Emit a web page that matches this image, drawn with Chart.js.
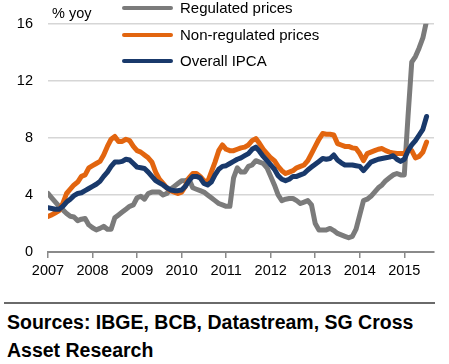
<!DOCTYPE html>
<html><head><meta charset="utf-8">
<script src="https://cdn.jsdelivr.net/npm/chart.js@4"></script>
<style>
html,body{margin:0;padding:0;background:#fff;width:449px;height:364px;overflow:hidden;font-family:"Liberation Sans",Arial,Helvetica,sans-serif;color:#000;}
#wrap{position:absolute;left:0;top:0;width:449px;height:292px;}
.unit{position:absolute;left:52px;top:5px;font-size:14.5px;line-height:16px;}
.leg{position:absolute;left:122px;height:16px;font-size:15px;line-height:16px;white-space:nowrap;}
.leg i{position:absolute;left:0;top:6px;width:51px;height:4px;border-radius:2px;}
.leg span{position:absolute;left:58px;top:0;}
#rule{position:absolute;left:4px;top:302px;width:431px;height:2px;background:#6a6a6a;}
#src{position:absolute;left:7px;top:308px;font-size:19.5px;font-weight:bold;line-height:28px;}
</style>
</head><body>
<div id="wrap"><canvas id="c"></canvas></div>
<div class="unit">% yoy</div>
<div id="legend"></div>
<div id="rule"></div>
<div id="src">Sources: IBGE, BCB, Datastream, SG Cross<br>Asset Research</div>
<script>
// Monthly, Jan 2007 .. Jul 2015 (% yoy)
const startYear = 2007;
const yearLabels = ['2007','2008','2009','2010','2011','2012','2013','2014','2015'];
const yTicks = [0, 4, 8, 12, 16];
const seriesNames = ['Regulated prices', 'Non-regulated prices', 'Overall IPCA'];

const regulated = [
 4.1,3.8,3.5,3.2,2.95,2.7,2.5,2.45,2.2,2.3,2.35,1.9,
 1.7,1.55,1.65,1.8,1.6,1.6,2.4,2.6,2.8,3.0,3.2,3.3,
 3.8,3.9,3.7,4.1,4.2,4.2,4.2,4.0,4.1,4.4,4.6,4.8,
 5.0,5.0,5.1,4.5,4.4,4.3,4.2,4.0,3.8,3.6,3.4,3.3,
 3.2,3.2,5.2,5.9,5.6,5.6,6.0,6.1,6.4,6.3,6.2,5.9,
 5.3,4.7,4.0,3.6,3.7,3.75,3.75,3.6,3.4,3.5,3.6,3.3,
 2.0,1.55,1.55,1.55,1.65,1.5,1.3,1.2,1.1,1.0,1.1,1.6,
 2.6,3.6,3.7,3.9,4.2,4.5,4.7,5.0,5.2,5.4,5.5,5.4,
 5.4,9.5,13.3,13.7,14.3,15.0,16.2
];
const nonRegulated = [
 2.5,2.6,2.75,2.9,3.4,4.1,4.4,4.7,4.9,5.3,5.4,5.9,
 6.05,6.2,6.35,6.8,7.4,7.9,8.1,7.75,7.75,7.9,7.8,7.4,
 7.1,7.0,6.8,6.6,6.3,5.6,5.1,4.8,4.5,4.3,4.2,4.1,
 4.2,4.6,5.2,5.5,5.5,5.3,5.0,4.9,5.6,6.3,7.1,7.5,
 7.2,7.1,7.1,7.2,7.3,7.35,7.5,7.8,7.95,7.6,7.2,6.9,
 6.6,6.4,6.0,5.7,5.5,5.6,5.7,5.9,6.0,6.1,6.4,6.9,
 7.4,7.9,8.3,8.25,8.25,8.2,7.6,7.5,7.4,7.4,7.3,7.25,
 6.9,6.4,6.9,7.0,7.1,7.2,7.25,7.1,7.0,6.95,6.9,6.9,
 6.9,7.2,7.1,6.6,6.7,7.0,7.7
];
const overall = [
 3.1,3.05,3.0,3.0,3.2,3.5,3.7,3.95,4.1,4.15,4.3,4.45,
 4.6,4.75,4.95,5.3,5.6,6.0,6.3,6.3,6.35,6.5,6.45,6.2,
 5.95,5.9,5.85,5.6,5.3,5.0,4.85,4.7,4.5,4.35,4.3,4.3,
 4.35,4.6,5.0,5.3,5.3,5.2,4.8,4.7,4.9,5.4,5.8,6.0,
 6.05,6.2,6.35,6.5,6.6,6.75,6.9,7.2,7.35,7.05,6.7,6.4,
 6.1,5.8,5.35,5.1,5.0,5.1,5.3,5.3,5.4,5.5,5.75,5.95,
 6.15,6.35,6.55,6.5,6.55,6.8,6.45,6.25,6.1,6.1,6.1,6.05,
 6.0,5.7,6.0,6.3,6.4,6.5,6.55,6.6,6.65,6.75,6.5,6.35,
 6.5,7.1,7.5,7.8,8.2,8.6,9.5
];

const colors = ['#7b7b7b', '#e2650f', '#19396b'];

// HTML legend
const legTops = [0, 27, 53];
const legend = document.getElementById('legend');
seriesNames.forEach((n, i) => {
  const d = document.createElement('div');
  d.className = 'leg';
  d.style.top = legTops[i] + 'px';
  d.innerHTML = '<i style="background:' + colors[i] + '"></i><span>' + n + '</span>';
  legend.appendChild(d);
});

const toPts = arr => arr.map((v, i) => ({x: i, y: v}));

Chart.defaults.font.family = '"Liberation Sans", Arial, Helvetica, sans-serif';
Chart.defaults.font.size = 14;
Chart.defaults.color = '#000';

new Chart(document.getElementById('c'), {
  type: 'line',
  data: {
    datasets: [
      {label: seriesNames[0], data: toPts(regulated), borderColor: colors[0], order: 3},
      {label: seriesNames[1], data: toPts(nonRegulated), borderColor: colors[1], order: 2},
      {label: seriesNames[2], data: toPts(overall), borderColor: colors[2], order: 1}
    ].map(d => Object.assign(d, {borderWidth: 5, pointRadius: 0, tension: 0, fill: false,
      borderJoinStyle: 'round', borderCapStyle: 'round'}))
  },
  options: {
    responsive: true,
    maintainAspectRatio: false,
    animation: false,
    events: [],
    layout: {padding: {top: 23, right: 15, left: 0, bottom: 0}},
    plugins: {legend: {display: false}, tooltip: {enabled: false}, title: {display: false}},
    scales: {
      x: {
        type: 'linear', min: 0, max: 104,
        afterFit: s => { s.height = 40; },
        afterBuildTicks: s => { s.ticks = yearLabels.map((_, i) => ({value: i * 12})); },
        ticks: {padding: 4, maxRotation: 0, autoSkip: false, font: {size: 14.5},
          callback: v => yearLabels[Math.round(v / 12)] || ''},
        grid: {drawOnChartArea: false, drawTicks: true, tickLength: 6, color: '#8a8a8a', lineWidth: 1.5},
        border: {display: true, color: '#8a8a8a', width: 2}
      },
      y: {
        min: 0, max: 16,
        afterFit: s => { s.width = 48; },
        afterBuildTicks: s => { s.ticks = yTicks.map(v => ({value: v})); },
        ticks: {padding: 15, font: {size: 14.5}},
        grid: {color: '#d6d6d6', lineWidth: 1.5, drawTicks: false},
        border: {display: false}
      }
    }
  }
});
</script>
</body></html>
